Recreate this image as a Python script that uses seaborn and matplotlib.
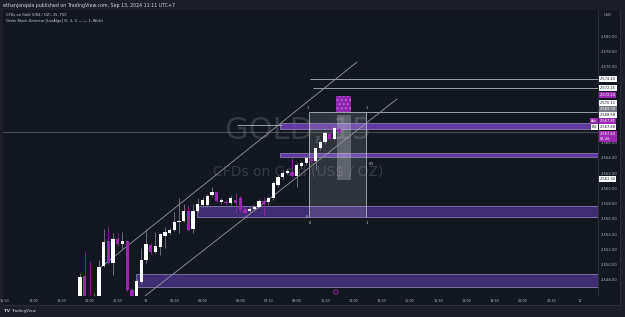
import matplotlib
matplotlib.use("Agg")
import matplotlib.pyplot as plt
import matplotlib.transforms as mtransforms
from matplotlib.patches import Rectangle
import numpy as np
import pandas as pd
import seaborn as sns

BG = "#131722"
FRAME = "#1c1f29"
TXT = "#b2b5be"
UP = "#ffffff"
DOWN = "#9c27b0"

# 15 min candles, x = bar number (16:30 on the 12th = 0, the 1h break at 04:00 is skipped)
bar_idx = list(range(16, 72))
opens = [2545.50, 2548.52, 2545.90, 2545.00, 2545.60, 2549.84, 2553.11, 2550.23, 2553.38, 2552.72,
         2553.11, 2546.69, 2545.80, 2547.74, 2550.62, 2552.59, 2551.67, 2552.33, 2553.77, 2554.16,
         2554.56, 2555.61, 2555.74, 2557.05, 2554.69, 2557.05, 2557.84, 2557.84, 2559.15, 2559.54,
         2558.23, 2558.23, 2558.10, 2558.49, 2558.75, 2557.31, 2557.05, 2557.31, 2557.57, 2558.36,
         2558.23, 2558.75, 2560.46, 2561.51, 2562.03, 2562.16, 2561.64, 2562.95, 2563.34, 2563.87,
         2563.61, 2565.31, 2566.10, 2567.15, 2566.49, 2567.80]
highs = [2548.92, 2551.67, 2550.49, 2546.30, 2550.62, 2554.69, 2555.08, 2554.16, 2554.16, 2554.30,
         2553.30, 2547.00, 2548.10, 2552.20, 2554.69, 2552.90, 2554.30, 2554.20, 2554.95, 2554.80,
         2556.92, 2558.75, 2557.97, 2557.80, 2557.97, 2558.75, 2558.90, 2559.30, 2560.20, 2559.70,
         2558.70, 2558.50, 2559.00, 2559.41, 2559.00, 2557.50, 2557.60, 2557.90, 2558.60, 2558.89,
         2559.02, 2561.00, 2561.80, 2562.30, 2562.50, 2564.00, 2563.30, 2563.60, 2564.20, 2564.10,
         2565.50, 2566.40, 2567.50, 2568.07, 2568.20, 2567.95]
lows = [2545.30, 2545.20, 2545.20, 2544.80, 2545.40, 2549.70, 2550.10, 2548.66, 2552.50, 2552.07,
        2546.50, 2545.50, 2545.60, 2547.50, 2550.23, 2551.40, 2551.50, 2551.28, 2552.20, 2554.00,
        2554.40, 2554.16, 2555.60, 2554.40, 2554.16, 2556.90, 2557.60, 2557.60, 2559.00, 2558.20,
        2558.00, 2557.90, 2557.90, 2556.79, 2556.79, 2556.50, 2556.80, 2557.10, 2557.40, 2556.52,
        2557.80, 2558.50, 2560.20, 2561.30, 2561.90, 2561.40, 2560.20, 2562.70, 2563.10, 2563.40,
        2562.43, 2565.10, 2565.90, 2566.30, 2566.30, 2567.30]
closes = [2548.39, 2545.50, 2545.40, 2545.80, 2549.70, 2552.98, 2550.23, 2553.38, 2552.72, 2553.11,
          2546.69, 2545.80, 2547.87, 2550.62, 2552.72, 2551.67, 2552.46, 2554.03, 2554.30, 2554.56,
          2555.61, 2555.74, 2557.05, 2554.56, 2557.05, 2557.97, 2558.49, 2559.02, 2559.54, 2558.36,
          2558.49, 2558.10, 2558.75, 2558.10, 2557.31, 2556.79, 2557.31, 2557.57, 2558.36, 2557.97,
          2558.75, 2560.72, 2561.51, 2562.03, 2562.30, 2561.64, 2563.08, 2563.34, 2564.00, 2563.61,
          2565.31, 2566.10, 2567.28, 2566.49, 2567.93, 2567.40]

time_pos = [0, 6, 12, 18, 24, 30, 36, 42, 50, 56, 62, 68, 74, 80, 86, 92, 98, 104, 110, 116, 122]
time_labels = ["16:30", "18:00", "19:30", "21:00", "22:30", "13", "01:30", "03:00", "06:00", "07:30",
               "09:00", "10:30", "12:00", "13:30", "15:00", "16:30", "18:00", "19:30", "21:00", "22:30", "14"]
# ticks 2568-2574 sit under the price badges, so they are not shown
price_ticks = [2548, 2550, 2552, 2554, 2556, 2558, 2560, 2562, 2564, 2566, 2576, 2578, 2580]

# order blocks (LuxAlgo)
ob_start = [58.4, 58.4, 40.8, 27.9]
ob_top = [2568.60, 2564.66, 2557.70, 2548.79]
ob_bottom = [2567.85, 2564.13, 2556.26, 2547.08]

# drawings
hline_price = [2574.40, 2573.18, 2570.03]
hline_start = [64.8, 65.4, 64.6]
chan_x0 = [20.2, 29.8]
chan_y0 = [2549.57, 2545.90]
chan_x1 = [74.8, 83.3]
chan_y1 = [2576.59, 2571.74]
box_x = [64.6, 76.7]
box_y = [2556.26, 2570.03]
last_price = 2567.40

axis_labels = ["2,574.40", "2,572.25", "2,572.24", "2,570.11", "2,569.74", "2,568.58",
               "2,567.81", "2,567.48", "2,567.40\n05:26", "2,561.32"]
axis_label_at = [2574.36, 2573.18, 2572.26, 2571.21, 2570.43, 2569.64, 2568.85, 2568.07, 2566.85, 2561.25]
axis_label_kind = ["w", "w", "p", "w", "g", "w", "p", "w", "p", "w"]

sns.set_theme(style="dark", rc={"axes.facecolor": BG, "figure.facecolor": FRAME})
plt.rcParams['font.family'] = ['DejaVu Sans']

fig = plt.figure(figsize=(6.25, 3.17), dpi=100)
W, H = 625, 317
# chart panel background
fig.patches.append(Rectangle((3 / W, 1 - 305 / H), 617 / W, 295 / H, transform=fig.transFigure,
                             facecolor=BG, edgecolor="none", zorder=-10))
ax = fig.add_axes([3 / W, 1 - 296 / H, 595 / W, 286 / H])
ax.set_facecolor(BG)
XMAX = 125.96

df = pd.DataFrame({"n": bar_idx, "o": opens, "h": highs, "l": lows, "c": closes})
df["up"] = df["c"] >= df["o"]

# watermark
ax.text(0.496, 0.58, "GOLD, 15", transform=ax.transAxes, ha="center", va="center",
        fontsize=22, color="#b2b5be", alpha=0.22, zorder=0.5)
ax.text(0.496, 0.434, "CFDs on Gold (US$ / OZ)", transform=ax.transAxes, ha="center", va="center",
        fontsize=10, color="#b2b5be", alpha=0.22, zorder=0.5)

# order block zones
for i in range(len(ob_start)):
    thin = i < 2
    ax.add_patch(Rectangle((ob_start[i], ob_bottom[i]), XMAX - ob_start[i], ob_top[i] - ob_bottom[i],
                           facecolor="#6a3fb0" if thin else "#46317e", edgecolor="#8f84b8",
                           lw=0.6, alpha=0.9, zorder=1))

# fib-style box
ax.add_patch(Rectangle((box_x[0], box_y[0]), box_x[1] - box_x[0], box_y[1] - box_y[0],
                       facecolor="#d1d4dc", alpha=0.15, edgecolor="none", zorder=1.2))
ax.vlines(box_x, box_y[0], box_y[1], colors="#b2b5be", lw=0.6, zorder=1.3)
ax.add_patch(Rectangle((70.5, 2561.12), 3.0, 8.52, facecolor="#d1d4dc", alpha=0.3,
                       edgecolor="none", zorder=1.3))
ax.add_patch(Rectangle((70.3, 2570.03), 3.2, 2.10, facecolor="#8e24aa", edgecolor="#c35ad6",
                       hatch="....", lw=0, zorder=1.3))
for txt, xx, yy in [("1", 64.0, 2570.6), ("1", 76.7, 2570.6), ("0.5", 77.2, 2563.2),
                    ("0", 64.0, 2556.3), ("0", 64.6, 2555.5), ("1", 76.7, 2555.5)]:
    ax.text(xx, yy, txt, fontsize=2.4, color="#d1d4dc", ha="left", va="center", zorder=4)

# horizontal lines
for p, s in zip(hline_price, hline_start):
    ax.hlines(p, s, XMAX, colors="#b2b5be", lw=0.6, zorder=1.5)
ax.hlines(2568.33, 49.3, 58.9, colors="#b2b5be", lw=0.6, zorder=1.5)
ax.axhline(last_price, color="#787b86", lw=0.5, alpha=0.8, zorder=1.4)

# channel
chan = pd.DataFrame({"x": chan_x0 + chan_x1, "y": chan_y0 + chan_y1, "line": [0, 1, 0, 1]})
sns.lineplot(data=chan, x="x", y="y", units="line", estimator=None, color="#9598a1",
             lw=0.6, ax=ax, zorder=2)

# candles
wick_col = np.where(df["up"], "#787b86", "#8e24aa")
ax.vlines(df["n"], df["l"], df["h"], colors=wick_col, lw=0.6, zorder=3)
body = np.maximum((df["c"] - df["o"]).abs(), 0.1)
ax.bar(df["n"], body, bottom=np.minimum(df["o"], df["c"]), width=0.7,
       color=np.where(df["up"], UP, DOWN), linewidth=0, zorder=3.5)

# event marker
sns.scatterplot(x=[70.3], y=[2546.43], ax=ax, marker="o", s=10, facecolor="none",
                edgecolor="#9c27b0", linewidth=0.6, zorder=4)

# axes
ax.set_xlim(-0.37, XMAX)
ax.set_ylim(2545.90, 2583.41)
ax.set_xlabel("")
ax.set_ylabel("")
ax.set_xticks(time_pos)
ax.set_xticklabels(time_labels)
ax.set_yticks(price_ticks)
ax.set_yticklabels([f"{p:,.2f}" for p in price_ticks])
ax.yaxis.tick_right()
ax.tick_params(axis="x", length=0, pad=2.2, labelsize=2.4, colors=TXT)
ax.tick_params(axis="y", length=0, pad=1.6, labelsize=2.7, colors=TXT)
ax.grid(False)
for side in ["top", "left", "bottom"]:
    ax.spines[side].set_visible(False)
ax.spines["right"].set_color("#2a2e39")
ax.spines["right"].set_linewidth(0.8)

# price axis badges
tr = mtransforms.blended_transform_factory(ax.transAxes, ax.transData)
kinds = {"w": ("#ffffff", "#131722"), "p": ("#9c27b0", "#ffffff"), "g": ("#787b86", "#ffffff")}
for lab, yy, k in zip(axis_labels, axis_label_at, axis_label_kind):
    fc, tc = kinds[k]
    ax.text(1.003, yy, lab, transform=tr, fontsize=2.6, color=tc, ha="left", va="center",
            linespacing=1.5, clip_on=False, zorder=6,
            bbox=dict(boxstyle="square,pad=0.22", fc=fc, ec="none"))
ax.text(0.9985, 2568.85, "Ask", transform=tr, fontsize=2.4, color="#ffffff", ha="right", va="center",
        clip_on=False, zorder=6, bbox=dict(boxstyle="square,pad=0.25", fc="#9c27b0", ec="none"))
ax.text(0.9985, 2568.07, "Bid", transform=tr, fontsize=2.4, color="#131722", ha="right", va="center",
        clip_on=False, zorder=6, bbox=dict(boxstyle="square,pad=0.25", fc="#ffffff", ec="none"))

# frame lines and texts
fig.add_artist(plt.Line2D([3 / W, 620 / W], [1 - 305 / H, 1 - 305 / H], transform=fig.transFigure,
                          color="#2a2e39", lw=0.8))
fig.add_artist(plt.Line2D([620 / W, 620 / W], [1 - 305 / H, 1 - 10 / H], transform=fig.transFigure,
                          color="#2a2e39", lw=0.8))
fig.text(3 / W, 1 - 5 / H, "ethanjonqala published on TradingView.com, Sep 13, 2024 11:11 UTC+7",
         fontsize=3.4, color="#d1d4dc", va="center", ha="left")
fig.text(6 / W, 1 - 15 / H, "CFDs on Gold (US$ / OZ), 15, TVC", fontsize=2.6, color="#d1d4dc",
         va="center", ha="left")
fig.text(6 / W, 1 - 21 / H, "Order Block Detector [LuxAlgo] (5, 3, 3, \u2014\u2014, 1, Wick)",
         fontsize=2.6, color="#d1d4dc", va="center", ha="left")
fig.text(608 / W, 1 - 15 / H, "USD", fontsize=2.6, color=TXT, va="center", ha="center")
fig.text(4 / W, 1 - 311 / H, "TV", fontsize=3.0, color="#d1d4dc", weight="bold", va="center", ha="left")
fig.text(11 / W, 1 - 311 / H, "TradingView", fontsize=3.0, color="#d1d4dc", va="center", ha="left")

fig.savefig("out.png", dpi=100, facecolor=FRAME)
